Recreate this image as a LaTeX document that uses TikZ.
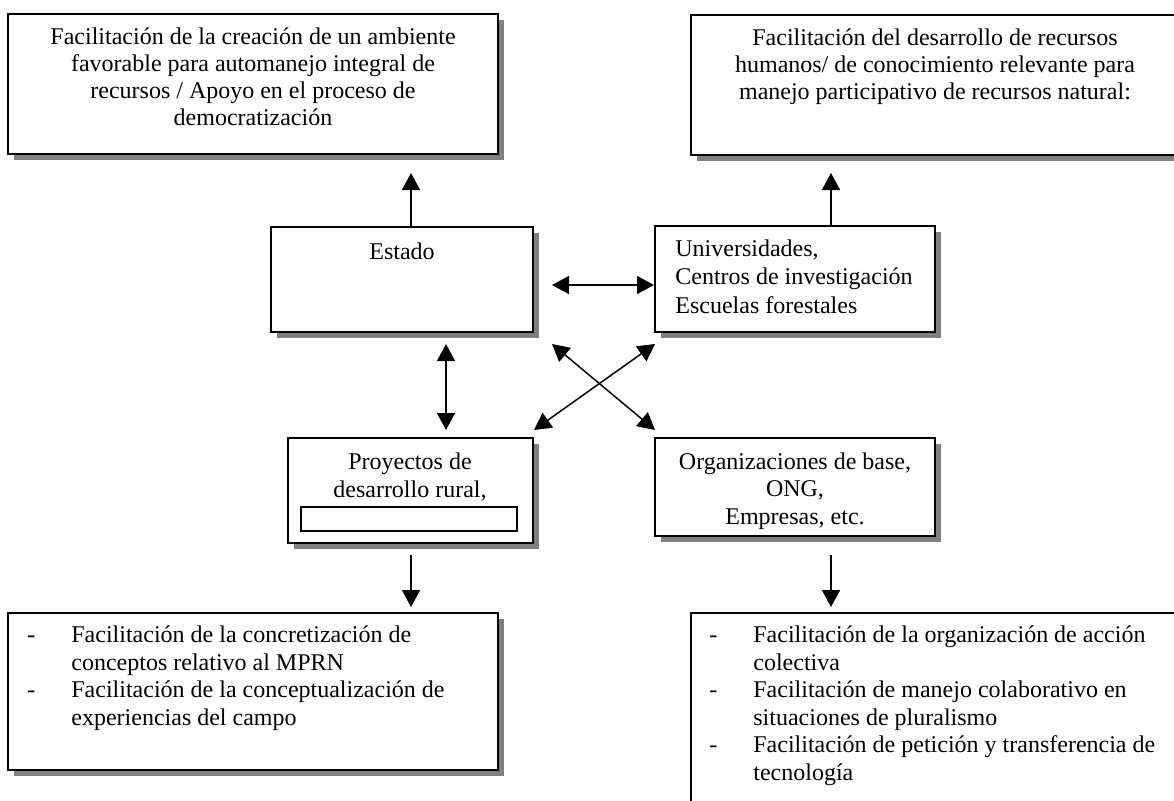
\documentclass[tikz,border=0pt]{standalone}
\usepackage{fontspec}
\setmainfont{Liberation Serif}
\usetikzlibrary{arrows.meta,shadows,fit}
\begin{document}
\begin{tikzpicture}[x=0.5pt,y=-0.5pt,
  box/.style={draw=black,line width=1pt,fill=white,inner sep=0pt,
    drop shadow={shadow xshift=3.2pt,shadow yshift=-3.2pt,fill=black!50,opacity=1}},
  plainbox/.style={draw=black,line width=0.9pt,fill=white,inner sep=0pt},
  txt/.style={inner sep=0pt,font=\fontsize{12pt}{13.6pt}\selectfont},
  arr/.style={line width=0.75pt,-{Triangle[length=8.5pt,width=9pt]}},
  darr/.style={line width=0.75pt,{Triangle[length=8.5pt,width=9pt]}-{Triangle[length=8.5pt,width=9pt]}}]
\useasboundingbox (0,0) rectangle (1174,800);
\clip (0,0) rectangle (1174,800);
% top boxes
\node[box,fit={(8,14) (498,154)}] (tl) {};
\node[txt,align=center,anchor=north] (tlt) at (253,27) {Facilitación de la creación de un ambiente\\favorable para automanejo integral de\\recursos / Apoyo en el proceso de\\democratización};
\node[box,fit={(691,15) (1180,155)}] (tr) {};
\node[txt,align=center,anchor=north] (trt) at (935,28) {Facilitación del desarrollo de recursos\\humanos/ de conocimiento relevante para\\manejo participativo de recursos natural:};
% middle boxes
\node[box,fit={(271,227) (533,332)}] (est) {};
\node[txt,anchor=north] (estt) at (402,242) {Estado};
\node[box,fit={(655,226) (935,332)}] (uni) {};
\node[txt,align=left,anchor=north west,font=\fontsize{12pt}{14.4pt}\selectfont] (unit) at (675,239) {Universidades,\\Centros de investigación\\Escuelas forestales};
% lower boxes
\node[box,fit={(288,438) (533,543)}] (pro) {};
\node[txt,align=center,anchor=north,font=\fontsize{12pt}{14pt}\selectfont] (prot) at (410,452) {Proyectos de\\desarrollo rural,};
\node[plainbox,fit={(301,507) (517,531)}] (proin) {};
\node[box,fit={(655,438) (935,536)}] (org) {};
\node[txt,align=center,anchor=north,font=\fontsize{12pt}{13.8pt}\selectfont] (orgt) at (795,452) {Organizaciones de base,\\ONG,\\Empresas, etc.};
% bottom boxes
\node[box,fit={(8,613) (498,770)}] (bl) {};
\node[txt,anchor=north west,font=\fontsize{12pt}{13.75pt}\selectfont] (blt) at (27,623) {\begin{tabular}{@{}p{22pt}@{}l@{}}
-&Facilitación de la concretización de\\
 &conceptos relativo al MPRN\\
-&Facilitación de la conceptualización de\\
 &experiencias del campo\end{tabular}};
\node[box,fit={(691,613) (1180,830)}] (br) {};
\node[txt,anchor=north west,font=\fontsize{12pt}{13.75pt}\selectfont] (brt) at (709,623) {\begin{tabular}{@{}p{22pt}@{}l@{}}
-&Facilitación de la organización de acción\\
 &colectiva\\
-&Facilitación de manejo colaborativo en\\
 &situaciones de pluralismo\\
-&Facilitación de petición y transferencia de\\
 &tecnología\end{tabular}};
% arrow ends
\coordinate (a1) at (411,173);
\coordinate (a2) at (831,173);
\coordinate (a3) at (552,285);
\coordinate (a4t) at (446,344);
\coordinate (a4b) at (446,430);
\coordinate (d1a) at (552,344);
\coordinate (d1b) at (655,430);
\coordinate (d2a) at (655,344);
\coordinate (d2b) at (534,430);
\coordinate (p1) at (411,555);
\coordinate (p2) at (411,607);
\coordinate (o1) at (831,555);
\coordinate (o2) at (831,607);
% connectors
\draw[arr] (est.north -| a1) -- (a1);
\draw[arr] (uni.north -| a2) -- (a2);
\draw[darr] (a3) -- (a3 -| uni.west);
\draw[darr] (a4t) -- (a4b);
\draw[darr] (d1a) -- (d1b);
\draw[darr] (d2a) -- (d2b);
\draw[arr] (p1) -- (p2);
\draw[arr] (o1) -- (o2);
\end{tikzpicture}
\end{document}
